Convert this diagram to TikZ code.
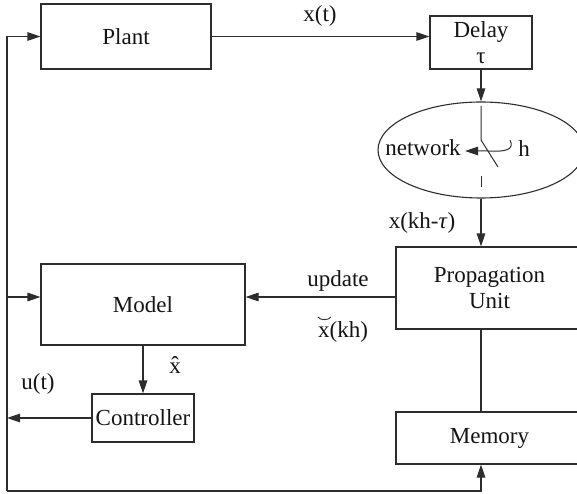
\documentclass[tikz,border=0pt]{standalone}
\usepackage{fontspec}
\setmainfont{Liberation Serif}
\usetikzlibrary{arrows.meta,shapes.geometric,calc}
\definecolor{linec}{RGB}{45,45,45}
\definecolor{textc}{RGB}{20,20,20}
\begin{document}
\begin{tikzpicture}[x=1pt,y=-1pt,
  box/.style={draw=linec, line width=1.1pt, inner sep=0pt, align=center,
    text=textc, font=\fontsize{23}{26}\selectfont},
  ln/.style={draw=linec, line width=1.1pt},
  arr/.style={ln, -{Triangle[length=13pt,width=8.5pt]}},
  lbl/.style={anchor=base, inner sep=0pt, text=textc, font=\fontsize{23}{26}\selectfont}]
\useasboundingbox (0,0) rectangle (577,494);

% blocks
\node[box, minimum width=170pt, minimum height=65pt] (plant) at (126,36.5) {Plant};
\node[box, minimum width=102pt, minimum height=53pt] (delay) at (481,42.5) {Delay\\τ};
\node[draw=linec, line width=1.1pt, ellipse, inner sep=0pt,
  minimum width=206pt, minimum height=96pt] (net) at (481,150) {};
\node[box, minimum width=187pt, minimum height=82pt] (prop) at (489.5,288) {Propagation\\Unit};
\node[box, minimum width=187pt, minimum height=52pt] (mem) at (489.5,438) {Memory};
\node[box, minimum width=204pt, minimum height=81pt] (model) at (143,304.5) {Model};
\node[box, minimum width=102pt, minimum height=48pt] (ctrl) at (143,418) {Controller};

% rail points of the feedback loop
\coordinate (bl) at (7,491);
\coordinate (fb) at (7,297);

% forward path
\draw[arr] (plant.east) -- (plant.east -| delay.west);
\draw[arr] (delay.south) -- (net.north);
\draw[arr] (net.south) -- (net.south |- prop.north);
\draw[ln] (net.south |- prop.south) -- (net.south |- mem.north);
\draw[arr] (fb -| prop.west) -- (fb -| model.east);
\draw[arr] (model.south) -- (ctrl.north);
\draw[arr] (ctrl.west) -- (ctrl.west -| bl);

% feedback rails
\draw[arr] (bl) |- (plant.west);
\draw[arr] (fb) -- (fb -| model.west);
\draw[arr] (bl) -| (net.south |- mem.south);

% switch inside the network
\draw[ln, line width=1pt] (481,106) -- (481,140) -- (498,167);
\draw[ln, line width=1pt] (481,176) -- (481,187);
\draw[arr, line width=1pt] (510,140) .. controls (515,150) and (505,152) .. (488,151) -- (465,151);

% labels
\node[lbl] (lxt) at (320,22) {x(t)};
\node[lbl] (lnet) at (423,156) {network};
\node[lbl] (lh) at (524,157) {h};
\node[lbl] (lxkt) at (422,228) {x(kh-\textit{τ})};
\node[lbl] (lupd) at (338,286) {update};
\node[lbl] (lxb) at (343,337) {x(kh)};
\draw[ln, line width=0.9pt] ($(lxb.base west)+(0,-20)$) .. controls +(2,3.5) and +(-2,3.5) .. ($(lxb.base west)+(13,-20)$);
\node[lbl] (lxh) at (175,373) {\^{x}};
\node[lbl] (lut) at (38,389) {u(t)};
\end{tikzpicture}
\end{document}
